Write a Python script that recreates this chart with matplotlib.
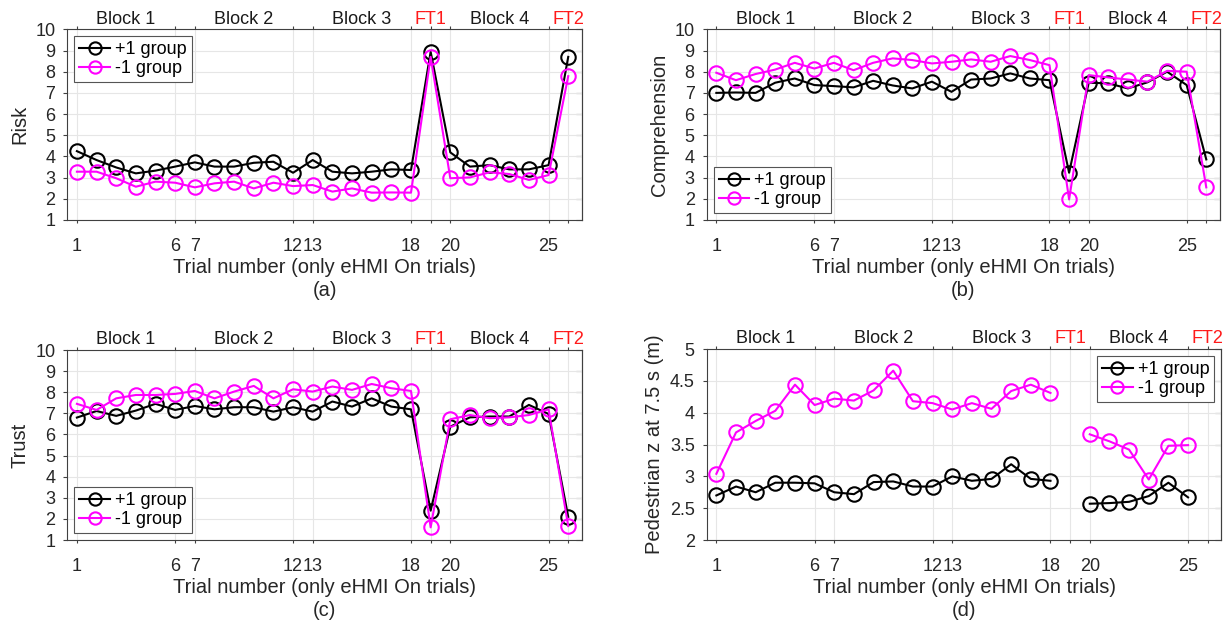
import numpy as np
import matplotlib
matplotlib.use('Agg')
import matplotlib.pyplot as plt
import matplotlib.transforms as mtransforms

plt.rcParams['font.family'] = ['Liberation Sans', 'DejaVu Sans']

trials = np.arange(1, 27)
nan = np.nan

# (a) Risk
risk_plus = [4.25, 3.83, 3.48, 3.2, 3.33, 3.52, 3.72, 3.52, 3.52, 3.7, 3.75, 3.23, 3.83,
             3.28, 3.2, 3.28, 3.39, 3.36, 8.94, 4.19, 3.52, 3.59, 3.39, 3.39, 3.59, 8.7]
risk_minus = [3.28, 3.28, 2.97, 2.57, 2.81, 2.76, 2.54, 2.73, 2.81, 2.49, 2.76, 2.6, 2.65,
              2.34, 2.49, 2.29, 2.3, 2.29, 8.7, 2.97, 3.01, 3.25, 3.17, 2.89, 3.12, 7.79]

# (b) Comprehension
comp_plus = [7.0, 7.02, 7.0, 7.48, 7.68, 7.37, 7.32, 7.26, 7.57, 7.35, 7.21, 7.53, 7.05,
             7.63, 7.68, 7.92, 7.68, 7.6, 3.23, 7.48, 7.45, 7.21, 7.5, 8.0, 7.37, 3.86]
comp_minus = [7.95, 7.6, 7.89, 8.1, 8.42, 8.15, 8.42, 8.07, 8.42, 8.63, 8.55, 8.39, 8.47,
              8.58, 8.47, 8.74, 8.55, 8.31, 1.97, 7.84, 7.73, 7.63, 7.53, 8.04, 8.0, 2.54]

# (c) Trust
trust_plus = [6.8, 7.11, 6.88, 7.13, 7.45, 7.16, 7.35, 7.19, 7.29, 7.29, 7.08, 7.29, 7.08,
              7.56, 7.32, 7.71, 7.32, 7.19, 2.39, 6.37, 6.81, 6.85, 6.85, 7.4, 6.97, 2.1]
trust_minus = [7.45, 7.16, 7.71, 7.87, 7.87, 7.92, 8.06, 7.71, 8.03, 8.3, 7.71, 8.14, 8.03,
               8.27, 8.11, 8.39, 8.19, 8.06, 1.6, 6.72, 6.92, 6.77, 6.81, 6.92, 7.19, 1.66]

# (d) Pedestrian z at 7.5 s (no data for FT1 / FT2)
z_plus = [2.7, 2.84, 2.75, 2.9, 2.9, 2.89, 2.75, 2.72, 2.91, 2.92, 2.84, 2.84, 3.0,
          2.93, 2.96, 3.19, 2.96, 2.93, nan, 2.57, 2.58, 2.6, 2.69, 2.9, 2.67, nan]
z_minus = [3.04, 3.69, 3.87, 4.03, 4.44, 4.12, 4.22, 4.19, 4.35, 4.66, 4.18, 4.15, 4.05,
           4.15, 4.06, 4.34, 4.44, 4.31, nan, 3.66, 3.55, 3.42, 2.95, 3.48, 3.49, nan]

xtick_pos = [1, 6, 7, 12, 13, 18, 19, 20, 25, 26]
xtick_lab = ['1', '6', '7', '12', '13', '18', '', '20', '25', '']
block_pos = [3.5, 9.5, 15.5, 19, 22.5, 26]
block_lab = ['Block 1', 'Block 2', 'Block 3', 'FT1', 'Block 4', 'FT2']
block_col = ['#1a1a1a', '#1a1a1a', '#1a1a1a', '#ff1a1a', '#1a1a1a', '#ff1a1a']

TXT = '#262626'
FS = 13
FSL = 14.5

fig = plt.figure(figsize=(12.26, 6.23), dpi=100)
positions = [[0.0547, 0.6469, 0.4200, 0.3060],
             [0.5763, 0.6469, 0.4188, 0.3060],
             [0.0547, 0.1332, 0.4200, 0.3050],
             [0.5763, 0.1332, 0.4200, 0.3066]]
panels = [
    (risk_plus, risk_minus, 'Risk', (1, 10), np.arange(1, 11), 'upper left', '(a)'),
    (comp_plus, comp_minus, 'Comprehension', (1, 10), np.arange(1, 11), 'lower left', '(b)'),
    (trust_plus, trust_minus, 'Trust', (1, 10), np.arange(1, 11), 'lower left', '(c)'),
    (z_plus, z_minus, 'Pedestrian z at 7.5 s (m)', (2, 5), np.arange(2, 5.01, 0.5), 'upper right', '(d)'),
]

for pos, (yp, ym, ylab, ylim, yticks, legloc, tag) in zip(positions, panels):
    ax = fig.add_axes(pos)
    ax.plot(trials, yp, color='black', marker='o', ms=10.4, mfc='none', mew=1.5, lw=1.5,
            label='+1 group')
    ax.plot(trials, ym, color='magenta', marker='o', ms=10.4, mfc='none', mew=1.5, lw=1.5,
            label='-1 group')
    ax.set_xlim(0.5, 26.7)
    ax.set_ylim(*ylim)
    ax.set_xticks(xtick_pos)
    ax.set_xticklabels(xtick_lab)
    ax.set_yticks(yticks)
    ax.set_yticklabels(['%g' % v for v in yticks])
    ax.grid(True, color='#e6e6e6', lw=0.8)
    ax.set_axisbelow(True)
    ax.tick_params(axis='x', direction='out', top=True, length=2.5, width=0.8,
                   pad=10.5, colors='#404040', labelcolor=TXT, labelsize=FS)
    ax.tick_params(axis='y', direction='out', right=False, length=3, width=0.8,
                   pad=5.5, colors='#404040', labelcolor=TXT, labelsize=FS)
    sec = ax.secondary_yaxis('right')
    sec.set_yticks(yticks)
    sec.tick_params(direction='in', length=4, width=0.8, colors='#404040', labelright=False)
    sec.spines['right'].set_color('#404040')
    sec.spines['right'].set_linewidth(0.8)
    for s in ax.spines.values():
        s.set_color('#404040')
        s.set_linewidth(0.8)
    ax.set_ylabel(ylab, fontsize=FSL, color=TXT, labelpad=4)
    ax.set_xlabel('Trial number (only eHMI On trials)', fontsize=FSL, color=TXT, labelpad=2)
    ax.text(0.5, -0.37, tag, transform=ax.transAxes, ha='center', va='center',
            fontsize=FSL, color=TXT)
    trans = mtransforms.blended_transform_factory(ax.transData, ax.transAxes)
    for bx, bl, bc in zip(block_pos, block_lab, block_col):
        ax.text(bx, 1.03, bl, transform=trans, ha='center', va='baseline',
                fontsize=FS, color=bc)
    leg = ax.legend(loc=legloc, fontsize=FS, fancybox=False, framealpha=1,
                    edgecolor='#555555', handlelength=1.7, handletextpad=0.28,
                    borderpad=0.28, labelspacing=0.1, borderaxespad=0.39, markerscale=0.85)
    leg.get_frame().set_linewidth(0.8)

fig.savefig('out.png', dpi=100)
